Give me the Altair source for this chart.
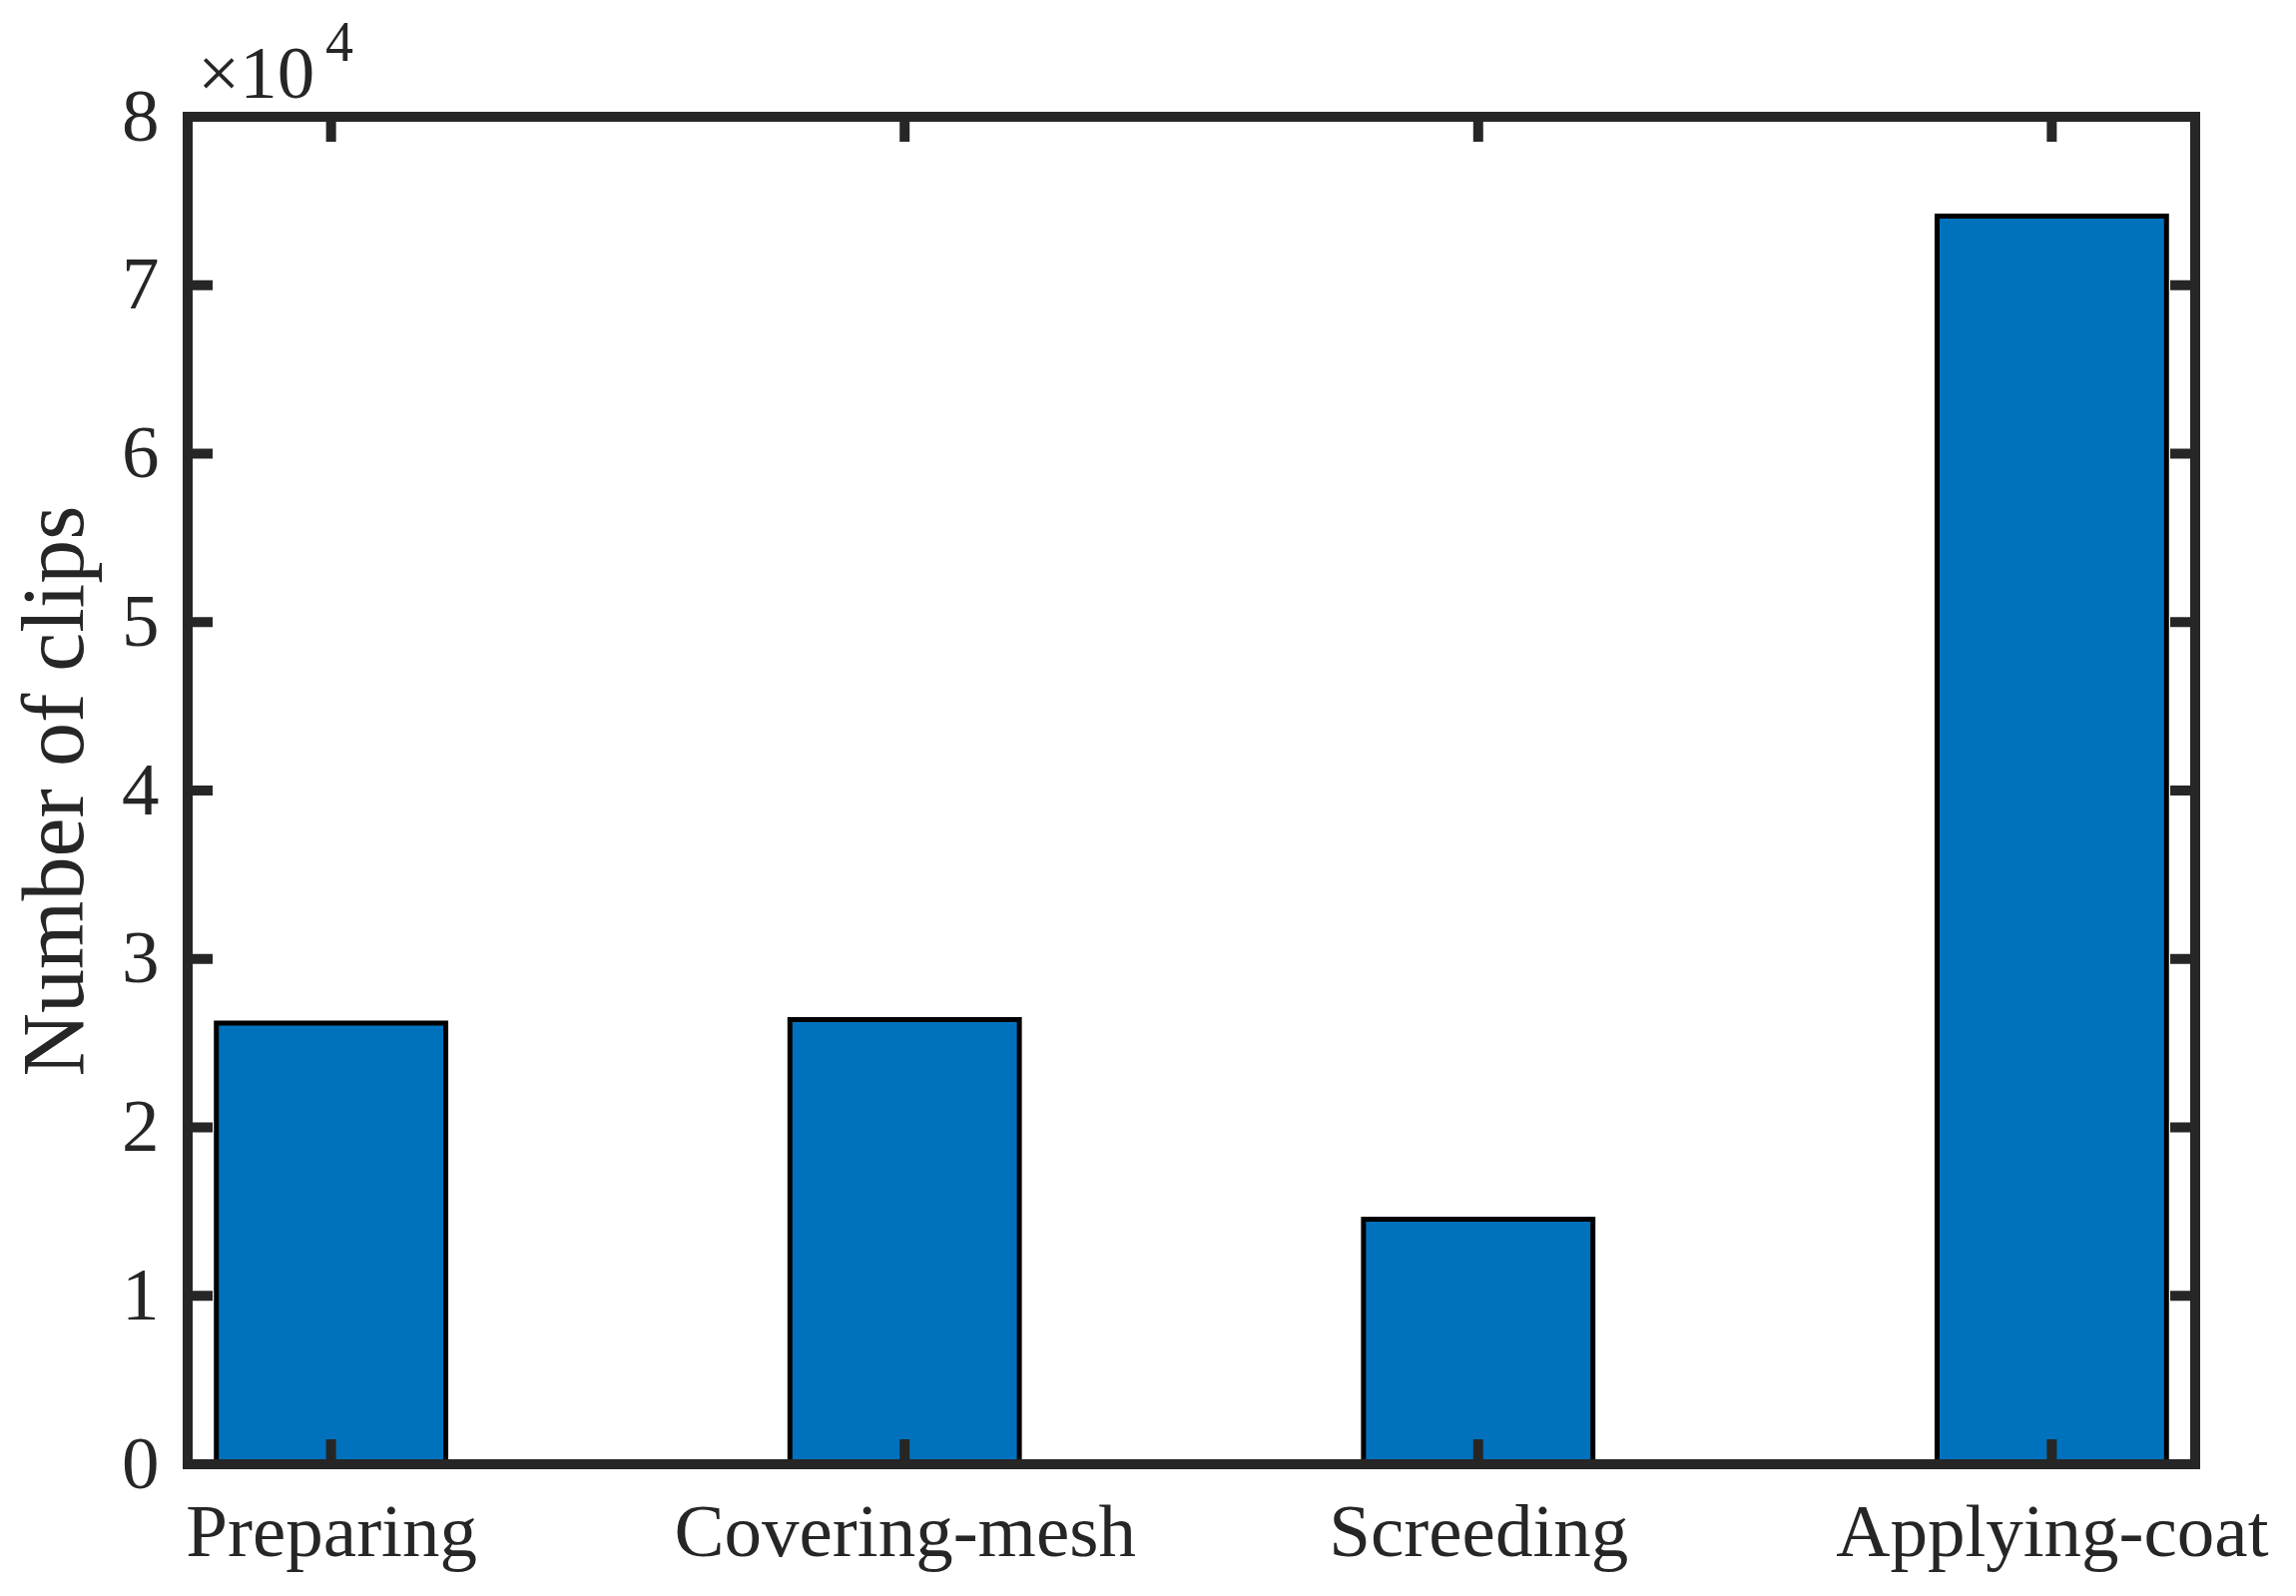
import json
import altair as alt
import pandas as pd

# ---- data ----
categories = ["Preparing", "Covering-mesh", "Screeding", "Applying-coat"]
positions = [1, 2, 3, 4]
clips = [26200, 26400, 14550, 74100]
y_ticks = [0, 10000, 20000, 30000, 40000, 50000, 60000, 70000, 80000]

W, H = 2011, 1350
INK = "#262626"
FONT = "Liberation Serif"
TICK_LEN = 25

bars_df = pd.DataFrame({"cat": categories, "pos": positions, "clips": clips})
yt_df = pd.DataFrame({"v": y_ticks})
one = pd.DataFrame({"k": [0]})

xscale = alt.Scale(domain=[0.75, 4.25], nice=False, zero=False)
yscale = alt.Scale(domain=[0, 80000], nice=False, zero=False)

label_js = json.dumps(categories)

x_axis = alt.Axis(
    values=positions,
    labelExpr=f"{label_js}[datum.value - 1]",
    domain=False,
    ticks=False,
    grid=False,
    labelFont=FONT,
    labelFontSize=75,
    labelColor=INK,
    labelPadding=32,
    labelFlush=False,
    labelOverlap=False,
    labelLimit=2000,
    title=None,
)
y_axis = alt.Axis(
    values=y_ticks,
    labelExpr="datum.value / 10000",
    domain=False,
    ticks=False,
    grid=False,
    labelFont=FONT,
    labelFontSize=75,
    labelColor=INK,
    labelPadding=29,
    labelFlush=False,
    labelOverlap=False,
    labelLimit=2000,
    title="Number of clips",
    titleFont=FONT,
    titleFontSize=88,
    titleFontWeight="normal",
    titleColor=INK,
    titleAngle=270,
    titleX=-106,
    titleY=H / 2,
    titleAlign="center",
    titleBaseline="alphabetic",
    titleLimit=2000,
)

bars = (
    alt.Chart(bars_df)
    .transform_calculate(x0="datum.pos - 0.2", x1="datum.pos + 0.2", base="0")
    .mark_rect(fill="#0072BD", stroke="black", strokeWidth=5)
    .encode(
        x=alt.X("x0:Q", scale=xscale, axis=x_axis),
        x2="x1:Q",
        y=alt.Y("clips:Q", scale=yscale, axis=y_axis),
        y2="base:Q",
    )
)

rule_kw = dict(strokeWidth=10, color=INK, strokeCap="butt")

bottom_ticks = alt.Chart(bars_df).mark_rule(**rule_kw).encode(
    x=alt.X("pos:Q", scale=xscale, axis=x_axis),
    y=alt.value(H),
    y2=alt.value(H - TICK_LEN),
)
top_ticks = alt.Chart(bars_df).mark_rule(**rule_kw).encode(
    x=alt.X("pos:Q", scale=xscale, axis=x_axis),
    y=alt.value(0),
    y2=alt.value(TICK_LEN),
)
left_ticks = alt.Chart(yt_df).mark_rule(**rule_kw).encode(
    y=alt.Y("v:Q", scale=yscale, axis=y_axis),
    x=alt.value(0),
    x2=alt.value(TICK_LEN),
)
right_ticks = alt.Chart(yt_df).mark_rule(**rule_kw).encode(
    y=alt.Y("v:Q", scale=yscale, axis=y_axis),
    x=alt.value(W),
    x2=alt.value(W - TICK_LEN),
)

frame = alt.Chart(one).mark_rect(
    fillOpacity=0, stroke=INK, strokeWidth=10, strokeJoin="miter"
).encode(
    x=alt.value(0), x2=alt.value(W), y=alt.value(0), y2=alt.value(H)
)

exp_base = alt.Chart(one).mark_text(
    text="×10", font=FONT, fontSize=75, color=INK, align="left", baseline="alphabetic"
).encode(x=alt.value(10), y=alt.value(-19))
exp_sup = alt.Chart(one).mark_text(
    text="4", font=FONT, fontSize=56, color=INK, align="left", baseline="alphabetic"
).encode(x=alt.value(138), y=alt.value(-56))

chart = (
    alt.layer(bars, bottom_ticks, top_ticks, left_ticks, right_ticks, frame, exp_base, exp_sup)
    .properties(
        width=W,
        height=H,
        autosize=alt.AutoSizeParams(type="none"),
        padding={"left": 180, "top": 109, "right": 90, "bottom": 110},
    )
    .configure_view(stroke=None)
    .configure(background="white")
)

chart.save("out.html", embed_options={"renderer": "svg", "actions": False})
